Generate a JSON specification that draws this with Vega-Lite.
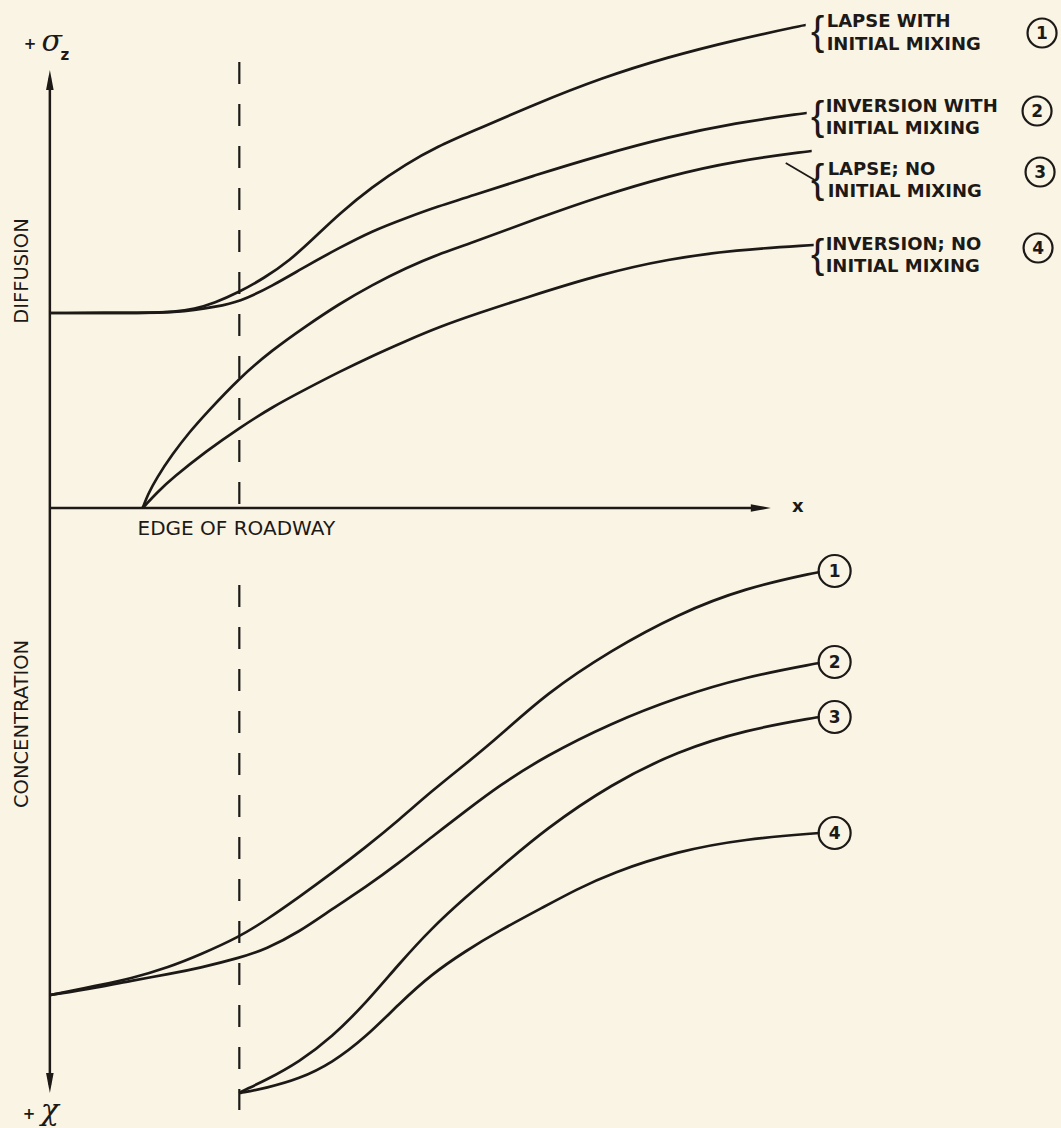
{
  "$schema": "https://vega.github.io/schema/vega-lite/v6.json",
  "width": 1061,
  "height": 1128,
  "autosize": {"type": "fit", "contains": "padding"},
  "padding": 0,
  "background": "#faf4e4",
  "config": {"view": {"stroke": null}},
  "datasets": {
    "curves": [
      {"c": "t1", "x": 50, "y": 313}, {"c": "t1", "x": 150, "y": 313}, {"c": "t1", "x": 175, "y": 312}, {"c": "t1", "x": 195, "y": 309}, {"c": "t1", "x": 215, "y": 303}, {"c": "t1", "x": 240, "y": 292}, {"c": "t1", "x": 265, "y": 278}, {"c": "t1", "x": 290, "y": 261}, {"c": "t1", "x": 315, "y": 238}, {"c": "t1", "x": 340, "y": 214}, {"c": "t1", "x": 373, "y": 187}, {"c": "t1", "x": 407, "y": 164}, {"c": "t1", "x": 440, "y": 146}, {"c": "t1", "x": 470, "y": 133}, {"c": "t1", "x": 537, "y": 104}, {"c": "t1", "x": 603, "y": 78}, {"c": "t1", "x": 670, "y": 57}, {"c": "t1", "x": 737, "y": 40}, {"c": "t1", "x": 807, "y": 25}, {"c": "t1", "x": 808, "y": 25},
      {"c": "t2", "x": 50, "y": 313}, {"c": "t2", "x": 150, "y": 313}, {"c": "t2", "x": 175, "y": 312}, {"c": "t2", "x": 195, "y": 310}, {"c": "t2", "x": 215, "y": 307}, {"c": "t2", "x": 240, "y": 302}, {"c": "t2", "x": 273, "y": 286}, {"c": "t2", "x": 307, "y": 266}, {"c": "t2", "x": 340, "y": 248}, {"c": "t2", "x": 373, "y": 231}, {"c": "t2", "x": 407, "y": 218}, {"c": "t2", "x": 440, "y": 206}, {"c": "t2", "x": 470, "y": 197}, {"c": "t2", "x": 537, "y": 175}, {"c": "t2", "x": 603, "y": 155}, {"c": "t2", "x": 670, "y": 137}, {"c": "t2", "x": 737, "y": 123}, {"c": "t2", "x": 808, "y": 113}, {"c": "t2", "x": 809, "y": 113},
      {"c": "t3", "x": 143, "y": 508}, {"c": "t3", "x": 144, "y": 506}, {"c": "t3", "x": 148, "y": 495}, {"c": "t3", "x": 157, "y": 478}, {"c": "t3", "x": 173, "y": 454}, {"c": "t3", "x": 190, "y": 432}, {"c": "t3", "x": 207, "y": 413}, {"c": "t3", "x": 240, "y": 378}, {"c": "t3", "x": 273, "y": 350}, {"c": "t3", "x": 307, "y": 326}, {"c": "t3", "x": 340, "y": 304}, {"c": "t3", "x": 373, "y": 285}, {"c": "t3", "x": 407, "y": 268}, {"c": "t3", "x": 440, "y": 254}, {"c": "t3", "x": 470, "y": 244}, {"c": "t3", "x": 537, "y": 219}, {"c": "t3", "x": 603, "y": 196}, {"c": "t3", "x": 670, "y": 176}, {"c": "t3", "x": 737, "y": 161}, {"c": "t3", "x": 813, "y": 151}, {"c": "t3", "x": 814, "y": 151},
      {"c": "t4", "x": 143, "y": 508}, {"c": "t4", "x": 145, "y": 506}, {"c": "t4", "x": 158, "y": 492}, {"c": "t4", "x": 173, "y": 478}, {"c": "t4", "x": 207, "y": 451}, {"c": "t4", "x": 240, "y": 428}, {"c": "t4", "x": 273, "y": 407}, {"c": "t4", "x": 307, "y": 389}, {"c": "t4", "x": 340, "y": 372}, {"c": "t4", "x": 373, "y": 356}, {"c": "t4", "x": 407, "y": 341}, {"c": "t4", "x": 440, "y": 327}, {"c": "t4", "x": 480, "y": 313}, {"c": "t4", "x": 523, "y": 299}, {"c": "t4", "x": 603, "y": 274}, {"c": "t4", "x": 670, "y": 259}, {"c": "t4", "x": 737, "y": 250}, {"c": "t4", "x": 815, "y": 245}, {"c": "t4", "x": 816, "y": 245},
      {"c": "b1", "x": 50, "y": 995}, {"c": "b1", "x": 51, "y": 995}, {"c": "b1", "x": 100, "y": 985}, {"c": "b1", "x": 130, "y": 979}, {"c": "b1", "x": 170, "y": 967}, {"c": "b1", "x": 200, "y": 955}, {"c": "b1", "x": 240, "y": 937}, {"c": "b1", "x": 267, "y": 920}, {"c": "b1", "x": 300, "y": 897}, {"c": "b1", "x": 333, "y": 873}, {"c": "b1", "x": 367, "y": 847}, {"c": "b1", "x": 400, "y": 820}, {"c": "b1", "x": 433, "y": 791}, {"c": "b1", "x": 467, "y": 764}, {"c": "b1", "x": 500, "y": 737}, {"c": "b1", "x": 547, "y": 694}, {"c": "b1", "x": 613, "y": 650}, {"c": "b1", "x": 680, "y": 614}, {"c": "b1", "x": 747, "y": 588}, {"c": "b1", "x": 821, "y": 572}, {"c": "b1", "x": 822, "y": 572},
      {"c": "b2", "x": 50, "y": 995}, {"c": "b2", "x": 51, "y": 995}, {"c": "b2", "x": 100, "y": 987}, {"c": "b2", "x": 130, "y": 981}, {"c": "b2", "x": 170, "y": 974}, {"c": "b2", "x": 200, "y": 968}, {"c": "b2", "x": 240, "y": 958}, {"c": "b2", "x": 267, "y": 949}, {"c": "b2", "x": 300, "y": 932}, {"c": "b2", "x": 333, "y": 909}, {"c": "b2", "x": 367, "y": 887}, {"c": "b2", "x": 400, "y": 863}, {"c": "b2", "x": 433, "y": 837}, {"c": "b2", "x": 467, "y": 811}, {"c": "b2", "x": 500, "y": 786}, {"c": "b2", "x": 547, "y": 756}, {"c": "b2", "x": 613, "y": 723}, {"c": "b2", "x": 680, "y": 697}, {"c": "b2", "x": 747, "y": 677}, {"c": "b2", "x": 821, "y": 663}, {"c": "b2", "x": 822, "y": 663},
      {"c": "b3", "x": 240, "y": 1093}, {"c": "b3", "x": 241, "y": 1092}, {"c": "b3", "x": 267, "y": 1080}, {"c": "b3", "x": 300, "y": 1062}, {"c": "b3", "x": 333, "y": 1037}, {"c": "b3", "x": 367, "y": 1003}, {"c": "b3", "x": 400, "y": 964}, {"c": "b3", "x": 433, "y": 928}, {"c": "b3", "x": 467, "y": 897}, {"c": "b3", "x": 500, "y": 869}, {"c": "b3", "x": 547, "y": 829}, {"c": "b3", "x": 613, "y": 784}, {"c": "b3", "x": 680, "y": 751}, {"c": "b3", "x": 747, "y": 730}, {"c": "b3", "x": 821, "y": 717}, {"c": "b3", "x": 822, "y": 717},
      {"c": "b4", "x": 240, "y": 1093}, {"c": "b4", "x": 241, "y": 1093}, {"c": "b4", "x": 267, "y": 1088}, {"c": "b4", "x": 300, "y": 1079}, {"c": "b4", "x": 333, "y": 1063}, {"c": "b4", "x": 367, "y": 1037}, {"c": "b4", "x": 400, "y": 1004}, {"c": "b4", "x": 433, "y": 974}, {"c": "b4", "x": 467, "y": 951}, {"c": "b4", "x": 500, "y": 931}, {"c": "b4", "x": 547, "y": 906}, {"c": "b4", "x": 577, "y": 890}, {"c": "b4", "x": 613, "y": 873}, {"c": "b4", "x": 680, "y": 851}, {"c": "b4", "x": 747, "y": 839}, {"c": "b4", "x": 821, "y": 833}, {"c": "b4", "x": 822, "y": 833}
    ],
    "rules": [
      {"x": 50, "y": 78, "x2": 50, "y2": 1085, "w": 2.5},
      {"x": 50, "y": 508, "x2": 765, "y2": 508, "w": 2.5},
      {"x": 788, "y": 163, "x2": 817, "y2": 180, "w": 1.8}
    ],
    "dashes": [
      {"x": 240, "y": 62, "x2": 240, "y2": 508},
      {"x": 240, "y": 585, "x2": 240, "y2": 1110}
    ],
    "arrows": [
      {"x": 50, "y": 80, "a": 0},
      {"x": 50, "y": 1083, "a": 180},
      {"x": 763, "y": 508, "a": 90}
    ],
    "circles": [
      {"x": 1045, "y": 33, "s": 841, "t": "1"},
      {"x": 1040, "y": 111, "s": 841, "t": "2"},
      {"x": 1043, "y": 172, "s": 841, "t": "3"},
      {"x": 1041, "y": 248, "s": 841, "t": "4"},
      {"x": 837, "y": 571, "s": 1024, "t": "1"},
      {"x": 837, "y": 662, "s": 1024, "t": "2"},
      {"x": 837, "y": 717, "s": 1024, "t": "3"},
      {"x": 837, "y": 833, "s": 1024, "t": "4"}
    ],
    "labels": [
      {"x": 829, "y": 22, "t": "LAPSE WITH"},
      {"x": 829, "y": 45, "t": "INITIAL MIXING"},
      {"x": 828, "y": 107, "t": "INVERSION WITH"},
      {"x": 828, "y": 129, "t": "INITIAL MIXING"},
      {"x": 830, "y": 170, "t": "LAPSE; NO"},
      {"x": 830, "y": 192, "t": "INITIAL MIXING"},
      {"x": 828, "y": 245, "t": "INVERSION; NO"},
      {"x": 828, "y": 267, "t": "INITIAL MIXING"}
    ],
    "braces": [
      {"x": 820, "y": 33, "t": "{"},
      {"x": 820, "y": 118, "t": "{"},
      {"x": 820, "y": 181, "t": "{"},
      {"x": 820, "y": 256, "t": "{"}
    ],
    "titles": [
      {"x": 22, "y": 271, "t": "DIFFUSION"},
      {"x": 22, "y": 724, "t": "CONCENTRATION"}
    ]
  },
  "encoding": {
    "x": {"field": "x", "type": "quantitative", "axis": null, "scale": {"domain": [0, 1061], "nice": false, "zero": false}},
    "y": {"field": "y", "type": "quantitative", "axis": null, "scale": {"domain": [0, 1128], "nice": false, "zero": false, "reverse": true}}
  },
  "layer": [
    {
      "data": {"name": "dashes"},
      "mark": {"type": "rule", "color": "#1c1917", "strokeWidth": 2.2, "strokeDash": [22, 20]},
      "encoding": {"x2": {"field": "x2"}, "y2": {"field": "y2"}}
    },
    {
      "data": {"name": "rules"},
      "mark": {"type": "rule", "color": "#1c1917"},
      "encoding": {"x2": {"field": "x2"}, "y2": {"field": "y2"}, "strokeWidth": {"field": "w", "type": "quantitative", "scale": null}}
    },
    {
      "data": {"name": "curves"},
      "mark": {"type": "line", "color": "#1c1917", "strokeWidth": 2.7, "interpolate": "basis"},
      "encoding": {"detail": {"field": "c", "type": "nominal"}}
    },
    {
      "data": {"name": "arrows"},
      "mark": {"type": "point", "shape": "M0,-1L0.38,1L-0.38,1Z", "filled": true, "color": "#1c1917", "opacity": 1, "size": 400},
      "encoding": {"angle": {"field": "a", "type": "quantitative", "scale": null}}
    },
    {
      "data": {"name": "circles"},
      "mark": {"type": "point", "shape": "circle", "filled": false, "color": "#1c1917", "strokeWidth": 2.2, "opacity": 1},
      "encoding": {"size": {"field": "s", "type": "quantitative", "scale": null}}
    },
    {
      "data": {"name": "circles"},
      "mark": {"type": "text", "font": "DejaVu Sans", "fontWeight": "bold", "fontSize": 17, "color": "#1c1917", "align": "center", "baseline": "middle", "dy": 1},
      "encoding": {"text": {"field": "t"}}
    },
    {
      "data": {"name": "labels"},
      "mark": {"type": "text", "font": "DejaVu Sans", "fontWeight": "bold", "fontSize": 18, "color": "#1c1917", "align": "left", "baseline": "middle"},
      "encoding": {"text": {"field": "t"}}
    },
    {
      "data": {"name": "braces"},
      "mark": {"type": "text", "font": "Liberation Sans", "fontSize": 40, "color": "#1c1917", "align": "center", "baseline": "middle"},
      "encoding": {"text": {"field": "t"}}
    },
    {
      "data": {"name": "titles"},
      "mark": {"type": "text", "font": "DejaVu Sans", "fontSize": 19.5, "color": "#1c1917", "align": "center", "baseline": "middle", "angle": 270},
      "encoding": {"text": {"field": "t"}}
    },
    {
      "data": {"values": [{"x": 237, "y": 529, "t": "EDGE OF ROADWAY"}]},
      "mark": {"type": "text", "font": "DejaVu Sans", "fontSize": 20, "color": "#1c1917", "align": "center", "baseline": "middle"},
      "encoding": {"text": {"field": "t"}}
    },
    {
      "data": {"values": [{"x": 800, "y": 508, "t": "x"}]},
      "mark": {"type": "text", "font": "DejaVu Sans", "fontWeight": "bold", "fontSize": 18, "color": "#1c1917", "align": "center", "baseline": "middle", "dy": -1},
      "encoding": {"text": {"field": "t"}}
    },
    {
      "data": {"values": [{"x": 30, "y": 44, "t": "+"}, {"x": 29, "y": 1114, "t": "+"}]},
      "mark": {"type": "text", "font": "DejaVu Sans", "fontWeight": "bold", "fontSize": 15, "color": "#1c1917", "align": "center", "baseline": "middle"},
      "encoding": {"text": {"field": "t"}}
    },
    {
      "data": {"values": [{"x": 52, "y": 51, "t": "σ"}, {"x": 50, "y": 1120, "t": "χ"}]},
      "mark": {"type": "text", "font": "DejaVu Serif", "fontStyle": "italic", "fontSize": 30, "color": "#1c1917", "align": "center", "baseline": "alphabetic"},
      "encoding": {"text": {"field": "t"}}
    },
    {
      "data": {"values": [{"x": 65, "y": 55, "t": "z"}]},
      "mark": {"type": "text", "font": "DejaVu Sans", "fontWeight": "bold", "fontSize": 15, "color": "#1c1917", "align": "center", "baseline": "middle"},
      "encoding": {"text": {"field": "t"}}
    }
  ]
}
